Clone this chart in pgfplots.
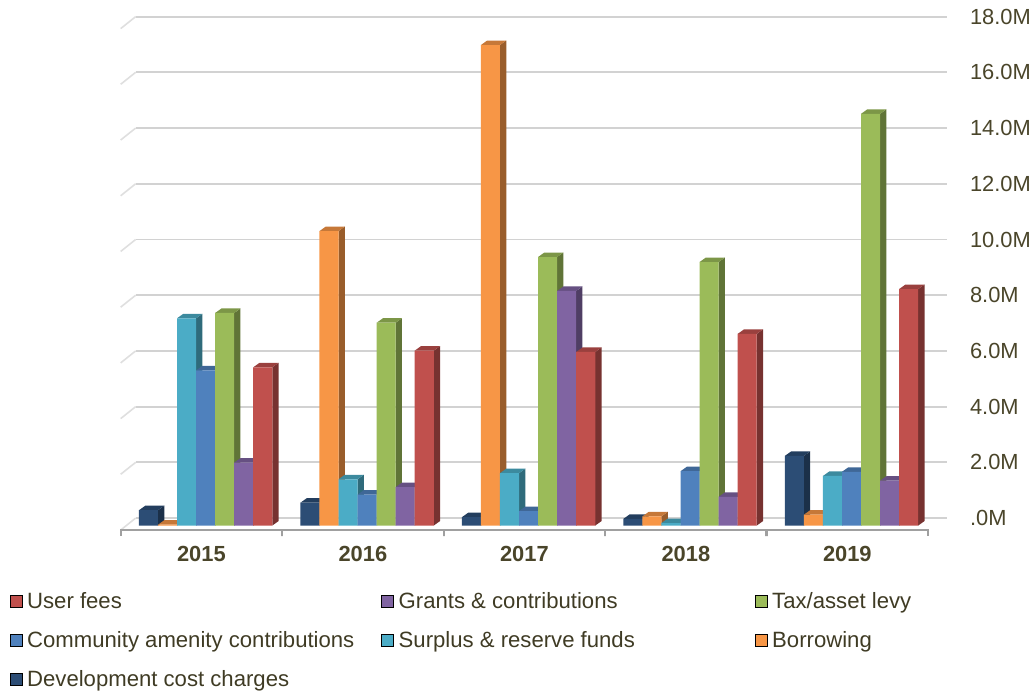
\documentclass[border=0pt]{standalone}
\usepackage{fontspec}
\setmainfont{Liberation Sans}
\usepackage{pgfplots}
\pgfplotsset{compat=1.18}
\definecolor{cuser}{HTML}{C0504D}
\definecolor{cgrant}{HTML}{8064A2}
\definecolor{ctax}{HTML}{9BBB59}
\definecolor{ccomm}{HTML}{4F81BD}
\definecolor{csurp}{HTML}{4BACC6}
\definecolor{cborr}{HTML}{F79646}
\definecolor{cdev}{HTML}{2C4D75}
\definecolor{txt}{HTML}{4A452A}
\definecolor{gridc}{HTML}{D2D2D2}
\definecolor{axc}{HTML}{A0A0A0}
% one bar's side and top faces, in data coordinates: category, series, value, colour
\newcommand\tdfaces[4]{%
  \pgfmathsetmacro\xr{#1+0.526+(#2-3)*0.11796+0.05898}%
  \pgfmathsetmacro\xl{\xr-0.11796}%
  \pgfmathsetmacro\xrb{\xr+0.039}%
  \pgfmathsetmacro\xlb{\xl+0.039}%
  \pgfmathsetmacro\yb{#3+0.1616}%
  \addplot[forget plot,draw=none,fill=#4!62!black] coordinates {(\xr,0) (\xrb,0.1616) (\xrb,\yb) (\xr,#3)};
  \addplot[forget plot,draw=none,fill=#4!80!black] coordinates {(\xl,#3) (\xlb,\yb) (\xrb,\yb) (\xr,#3)};
}
% a whole series: index, colour, five values
\newcommand\tdseries[7]{%
  \tdfaces{0}{#1}{#3}{#2}\tdfaces{1}{#1}{#4}{#2}\tdfaces{2}{#1}{#5}{#2}\tdfaces{3}{#1}{#6}{#2}\tdfaces{4}{#1}{#7}{#2}%
  \addplot[forget plot,ybar,bar width=14.29pt,bar shift={(#1-3)*14.29pt+3.15pt},draw=none,fill=#2]
    coordinates {(0.5,#3) (1.5,#4) (2.5,#5) (3.5,#6) (4.5,#7)};
}
\newcommand\gridat[1]{%
  \addplot[forget plot,gridc!70!white,line width=1.2pt] coordinates {(0,#1-0.161) (0.0929,#1+0.269)};
  \addplot[forget plot,gridc,line width=1.4pt] coordinates {(0.0929,#1+0.269) (5.116,#1+0.269)};
}
\pgfplotsset{
  swatch/.style={legend image code/.code={\fill[##1] (0pt,-4.5pt) rectangle (9pt,4.5pt);}},
}
\begin{document}
\begin{tikzpicture}
\useasboundingbox (0,0) rectangle (775.5pt,519pt);
\begin{axis}[
  at={(90.5pt,121.7pt)},anchor=south west,
  scale only axis,width=619.6pt,height=385pt,
  xmin=0,xmax=5.116,ymin=-0.15,ymax=18.277,
  clip=false,
  axis line style={draw=none},
  major tick length=0pt,
  xtick={0.5,1.5,2.5,3.5,4.5},
  xticklabels={2015,2016,2017,2018,2019},
  xticklabel style={font=\fontsize{16.4}{18}\selectfont\bfseries,text=txt,yshift=-9pt},
  ytick={0.269,2.269,4.269,6.269,8.269,10.269,12.269,14.269,16.269,18.269},
  yticklabels={.0M,2.0M,4.0M,6.0M,8.0M,10.0M,12.0M,14.0M,16.0M,18.0M},
  yticklabel pos=right,
  yticklabel style={font=\fontsize{16.4}{18}\selectfont,text=txt,anchor=west,inner sep=0pt,xshift=17.2pt},
  legend columns=3,
  legend cell align=left,
  legend style={at={(-0.134,-0.1225)},anchor=north west,draw=none,fill=none,inner sep=0pt,outer sep=0pt,
    font=\fontsize{16.6}{18}\selectfont,text=txt!85!black,
    /tikz/row sep=15.7pt,
    /tikz/column sep=0pt,
    nodes={inner sep=0pt,outer sep=0pt}},
]
\addlegendimage{swatch,fill=cuser}\addlegendentry{\makebox[269.25pt][l]{\hspace{3.5pt}User fees}}
\addlegendimage{swatch,fill=cgrant}\addlegendentry{\makebox[270.75pt][l]{\hspace{3.5pt}Grants \& contributions}}
\addlegendimage{swatch,fill=ctax}\addlegendentry{\makebox[120pt][l]{\hspace{3.5pt}Tax/asset levy}}
\addlegendimage{swatch,fill=ccomm}\addlegendentry{\makebox[269.25pt][l]{\hspace{3.5pt}Community amenity contributions}}
\addlegendimage{swatch,fill=csurp}\addlegendentry{\makebox[270.75pt][l]{\hspace{3.5pt}Surplus \& reserve funds}}
\addlegendimage{swatch,fill=cborr}\addlegendentry{\makebox[120pt][l]{\hspace{3.5pt}Borrowing}}
\addlegendimage{swatch,fill=cdev}\addlegendentry{\makebox[269.25pt][l]{\hspace{3.5pt}Development cost charges}}
\gridat{0}\gridat{2}\gridat{4}\gridat{6}\gridat{8}\gridat{10}\gridat{12}\gridat{14}\gridat{16}\gridat{18}
\addplot[forget plot,axc,line width=1.7pt] coordinates {(0,-0.38) (0,-0.15) (1,-0.15) (1,-0.38) (1,-0.15) (2,-0.15) (2,-0.38) (2,-0.15) (3,-0.15) (3,-0.38) (3,-0.15) (4,-0.15) (4,-0.38) (4,-0.15) (5,-0.15) (5,-0.38)};
%         series colour  2015  2016   2017   2018  2019
\tdseries{0}{cdev} {0.55}{0.82}{0.30}{0.24}{2.50}
\tdseries{1}{cborr}{0.03}{10.57}{17.25}{0.33}{0.39}
\tdseries{2}{csurp}{7.44}{1.66}{1.88}{0.09}{1.78}
\tdseries{3}{ccomm}{5.57}{1.11}{0.52}{1.95}{1.93}
\tdseries{4}{ctax} {7.63}{7.28}{9.64}{9.46}{14.78}
\tdseries{5}{cgrant}{2.26}{1.38}{8.42}{1.03}{1.61}
\tdseries{6}{cuser}{5.68}{6.28}{6.23}{6.88}{8.49}
\end{axis}
\end{tikzpicture}
\end{document}
